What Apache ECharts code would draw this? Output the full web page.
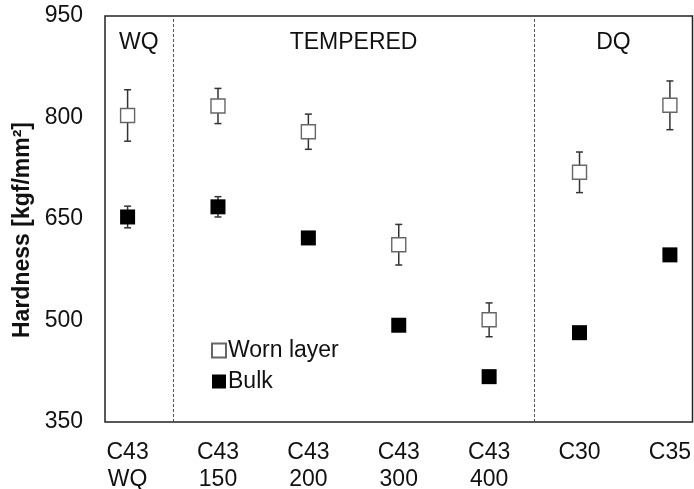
<!DOCTYPE html>
<html>
<head>
<meta charset="utf-8">
<script src="https://cdn.jsdelivr.net/npm/echarts@6/dist/echarts.min.js"></script>
<style>
  html, body { margin: 0; padding: 0; background: #fff; }
  #chart { width: 694px; height: 489px; }
</style>
</head>
<body>
<div id="chart"></div>
<script>
// categories along x (index = position)
const categories = ['C43\nWQ', 'C43\n150', 'C43\n200', 'C43\n300', 'C43\n400', 'C30', 'C35'];
const wornMean = [803, 817, 779, 612, 501, 719, 818];
const wornErr = [38, 26, 26, 30, 25, 30, 36];
const bulkMean = [653, 668, 622, 493, 417, 482, 597];
const bulkErr = [16, 15, 8, 8, 9, 0, 0];
const yTicks = [350, 500, 650, 800, 950];
// heat-treatment groups: [label, from, to] in category-index units
const groups = [['WQ', -0.25, 0.5], ['TEMPERED', 0.5, 4.5], ['DQ', 4.5, 6.25]];
const dividers = [0.5, 4.5];

const font = 'Liberation Sans, Arial, sans-serif';

const toPoints = (vals) => vals.map((v, i) => [i, v]);
const toErr = (vals, errs) => vals.map((v, i) => [i, v - errs[i], v + errs[i]]);

const errorBar = (name, data) => ({
  name: name,
  type: 'custom',
  z: 1,
  data: data,
  renderItem: (params, api) => {
    const x = api.value(0);
    const lo = api.coord([x, api.value(1)]);
    const hi = api.coord([x, api.value(2)]);
    const cap = 3.5;
    const style = {stroke: '#333', lineWidth: 1.5};
    return {
      type: 'group',
      children: [
        {type: 'line', shape: {x1: lo[0], y1: lo[1], x2: hi[0], y2: hi[1]}, style},
        {type: 'line', shape: {x1: lo[0] - cap, y1: lo[1], x2: lo[0] + cap, y2: lo[1]}, style},
        {type: 'line', shape: {x1: hi[0] - cap, y1: hi[1], x2: hi[0] + cap, y2: hi[1]}, style}
      ]
    };
  }
});

const chart = echarts.init(document.getElementById('chart'));
const option = {
  animation: false,
  textStyle: {fontFamily: font},
  grid: {
    left: 105, right: 1.5, top: 16, bottom: 67,
    outerBoundsMode: 'none',
    containLabel: false,
    show: true, borderColor: '#222', borderWidth: 1.5, backgroundColor: 'transparent'
  },
  legend: {
    data: ['Worn layer', 'Bulk'],
    orient: 'vertical',
    left: 206, top: 334,
    itemWidth: 14, itemHeight: 14, itemGap: 8,
    icon: 'rect',
    textStyle: {fontFamily: font, fontSize: 23, color: '#111', padding: [0, 0, 0, -3]}
  },
  xAxis: {
    type: 'value',
    min: -0.25, max: 6.25,
    axisLine: {show: false},
    axisTick: {show: false},
    splitLine: {show: false},
    axisLabel: {
      customValues: categories.map((c, i) => i),
      formatter: (v) => categories[Math.round(v)],
      fontFamily: font, fontSize: 23, color: '#111', lineHeight: 27, margin: 17
    }
  },
  yAxis: {
    type: 'value',
    min: 350, max: 950,
    name: 'Hardness [kgf/mm²]',
    nameLocation: 'middle',
    nameGap: 68,
    nameTextStyle: {
      fontFamily: font, fontSize: 23, fontWeight: 'bold', color: '#111',
      padding: [0, 22, 0, 0]
    },
    axisLine: {show: false},
    axisTick: {show: false},
    splitLine: {show: false},
    axisLabel: {
      customValues: yTicks,
      fontFamily: font, fontSize: 23, color: '#111', margin: 22
    }
  },
  series: [
    errorBar('wornErr', toErr(wornMean, wornErr)),
    errorBar('bulkErr', toErr(bulkMean, bulkErr)),
    {
      name: 'Worn layer',
      type: 'scatter',
      z: 3,
      symbol: 'rect',
      symbolSize: 14,
      itemStyle: {color: '#fff', borderColor: '#666', borderWidth: 1.4, opacity: 1},
      data: toPoints(wornMean),
      markLine: {
        silent: true,
        symbol: 'none',
        label: {show: false},
        lineStyle: {color: '#555', type: [3, 2], width: 1},
        data: dividers.map((d) => ({xAxis: d}))
      },
      markArea: {
        silent: true,
        itemStyle: {color: 'transparent'},
        label: {
          position: 'insideTop', distance: 15,
          fontFamily: font, fontSize: 23, color: '#111'
        },
        data: groups.map((g) => [{name: g[0], xAxis: g[1]}, {xAxis: g[2]}])
      }
    },
    {
      name: 'Bulk',
      type: 'scatter',
      z: 3,
      symbol: 'rect',
      symbolSize: 15,
      itemStyle: {color: '#000', opacity: 1},
      data: toPoints(bulkMean)
    }
  ]
};
chart.setOption(option);
</script>
</body>
</html>
